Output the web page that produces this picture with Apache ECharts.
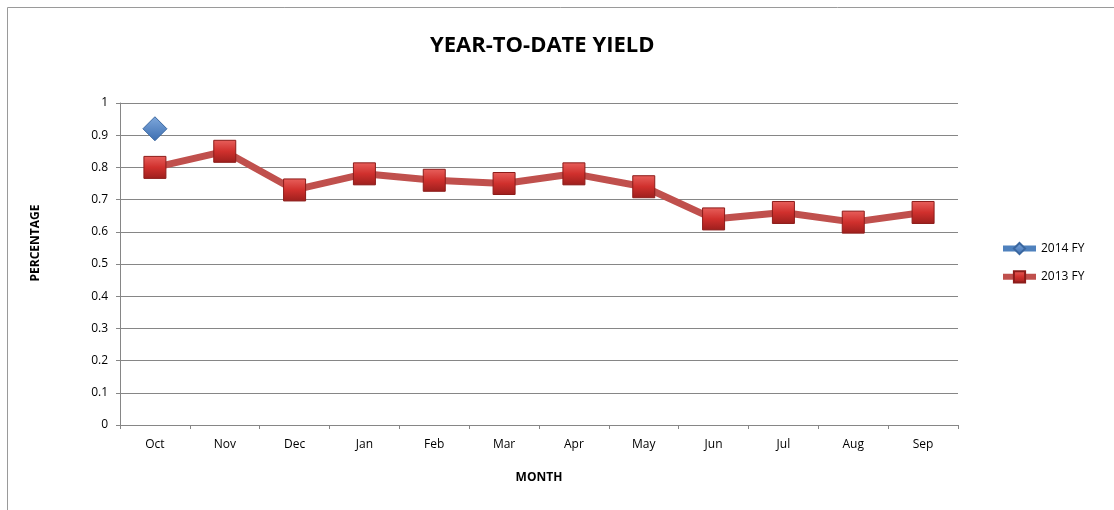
<!DOCTYPE html>
<html>
<head>
<meta charset="utf-8">
<script src="https://cdn.jsdelivr.net/npm/echarts@6/dist/echarts.min.js"></script>
<style>
  html, body { margin: 0; padding: 0; background: #fff; }
  #chart { width: 1114px; height: 510px; }
</style>
</head>
<body>
<div id="chart"></div>
<script>
var months = ["Oct", "Nov", "Dec", "Jan", "Feb", "Mar", "Apr", "May", "Jun", "Jul", "Aug", "Sep"];
var fy2014 = [0.92, null, null, null, null, null, null, null, null, null, null, null];
var fy2013 = [0.80, 0.85, 0.73, 0.78, 0.76, 0.75, 0.78, 0.74, 0.64, 0.66, 0.63, 0.66];
var yTicks = [0, 0.1, 0.2, 0.3, 0.4, 0.5, 0.6, 0.7, 0.8, 0.9, 1];

var chart = echarts.init(document.getElementById("chart"));
var font = "Open Sans";

var redFill = new echarts.graphic.LinearGradient(0, 0, 0, 1, [
  { offset: 0, color: "#e8605c" },
  { offset: 0.5, color: "#d0302d" },
  { offset: 1, color: "#9c1f1d" }
]);
var blueFill = new echarts.graphic.LinearGradient(0, 0, 0, 1, [
  { offset: 0, color: "#7fa8dc" },
  { offset: 1, color: "#3b6db0" }
]);

var option = {
  animation: false,
  graphic: [
    {
      type: "polyline",
      shape: { points: [[7.5, 510], [7.5, 7.5], [1114, 7.5]] },
      style: { stroke: "#9a9a9a", lineWidth: 1, fill: null }
    },
    {
      // y axis title, sits a bit above the plot middle like the original
      type: "text",
      x: 36,
      y: 243,
      rotation: Math.PI / 2,
      style: {
        text: "PERCENTAGE",
        fontFamily: font, fontWeight: "bold", fontSize: 12, fill: "#000",
        align: "center", verticalAlign: "middle"
      }
    }
  ],
  title: {
    text: "YEAR-TO-DATE YIELD",
    left: 425,
    top: 30,
    textStyle: { fontFamily: font, fontWeight: "bold", fontSize: 22, color: "#000" }
  },
  legend: {
    orient: "vertical",
    left: 995,
    top: 237,
    itemGap: 15,
    itemWidth: 33,
    itemHeight: 14,
    lineStyle: { width: 6 },
    textStyle: { fontFamily: font, fontSize: 12, color: "#000" },
    data: ["2014 FY", "2013 FY"]
  },
  grid: { left: 120, right: 156, top: 103, bottom: 85 },
  xAxis: {
    type: "category",
    data: months,
    boundaryGap: true,
    name: "MONTH",
    nameLocation: "middle",
    nameGap: 47,
    nameTextStyle: { fontFamily: font, fontWeight: "bold", fontSize: 12, color: "#000" },
    axisLine: { lineStyle: { color: "#868686" } },
    axisTick: { show: true, length: 4, lineStyle: { color: "#868686" } },
    axisLabel: { fontFamily: font, fontSize: 12, color: "#000", margin: 14 }
  },
  yAxis: {
    type: "value",
    min: 0,
    max: 1,
    interval: 0.1,
    axisLine: { show: true, lineStyle: { color: "#868686" } },
    axisTick: { show: true, length: 4, lineStyle: { color: "#868686" } },
    axisLabel: {
      fontFamily: font, fontSize: 12, color: "#000", margin: 12,
      formatter: function (v) {
        var t = yTicks.find(function (x) { return Math.abs(x - v) < 1e-6; });
        return t === undefined ? "" : String(t);
      }
    },
    splitLine: { lineStyle: { color: "#868686" } }
  },
  series: [
    {
      name: "2013 FY",
      type: "line",
      data: fy2013,
      symbol: "rect",
      symbolSize: 22,
      lineStyle: { color: "#c0504d", width: 7 },
      itemStyle: { color: redFill, borderColor: "#8c1c1a", borderWidth: 1 },
      z: 2
    },
    {
      name: "2014 FY",
      type: "line",
      data: fy2014,
      symbol: "diamond",
      symbolSize: 24,
      lineStyle: { color: "#4f81bd", width: 7 },
      itemStyle: { color: blueFill, borderColor: "#3a67a0", borderWidth: 1 },
      z: 3
    }
  ]
};
chart.setOption(option);
</script>
</body>
</html>
